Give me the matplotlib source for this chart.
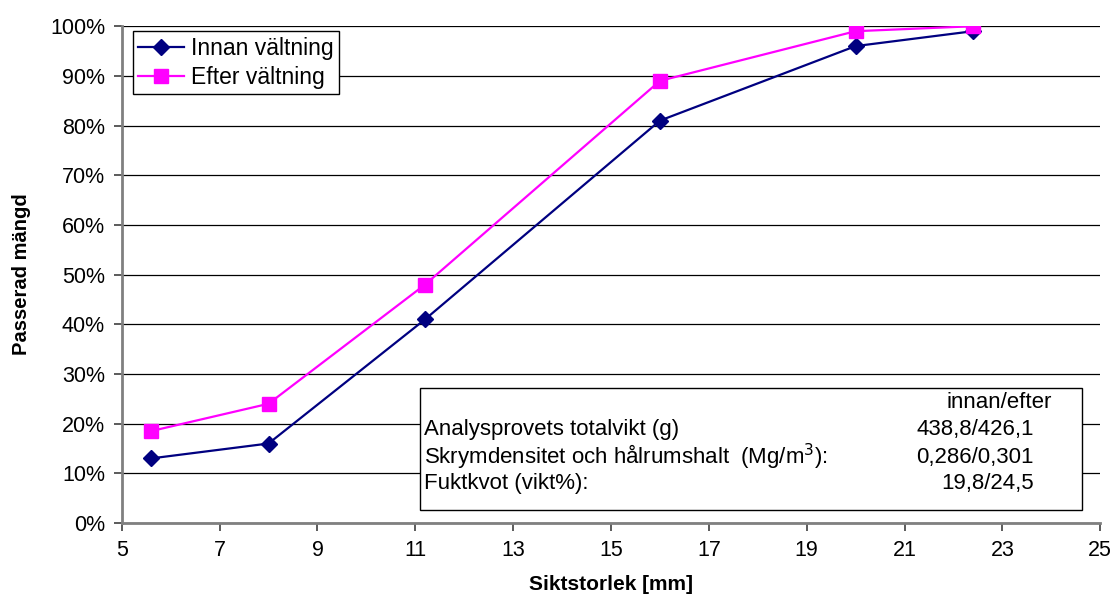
import matplotlib.pyplot as plt
from matplotlib.ticker import PercentFormatter

plt.rcParams['font.family'] = ['Liberation Sans', 'DejaVu Sans']

sikt = [5.6, 8, 11.2, 16, 20, 22.4]
innan = [13, 16, 41, 81, 96, 99]
efter = [18.5, 24, 48, 89, 99, 100]

fig = plt.figure(figsize=(11.17, 5.96), dpi=100)
ax = fig.add_axes([0.109, 0.1225, 0.876, 0.8335])

ax.plot(sikt, innan, color='#000080', marker='D', markersize=8, lw=1.6,
        label='Innan vältning', zorder=3)
ax.plot(sikt, efter, color='#FF00FF', marker='s', markersize=10, lw=1.6,
        label='Efter vältning', zorder=3)

ax.set_xlim(5, 25)
ax.set_ylim(0, 100)
ax.set_xticks(range(5, 26, 2))
ax.set_yticks(range(0, 101, 10))
ax.yaxis.set_major_formatter(PercentFormatter(decimals=0))
ax.grid(axis='y', color='black', lw=0.9)
ax.set_axisbelow(True)
for s in ['top', 'right']:
    ax.spines[s].set_visible(False)
for s in ['left', 'bottom']:
    ax.spines[s].set_color('#808080')
    ax.spines[s].set_linewidth(2)
ax.tick_params(axis='both', direction='out', length=6, width=1.2, color='#404040',
               labelsize=15.5, pad=6)
ax.set_xlabel('Siktstorlek [mm]', fontsize=15, fontweight='bold', labelpad=10)
ax.set_ylabel('Passerad mängd', fontsize=14.5, fontweight='bold', labelpad=14)

leg = ax.legend(loc='upper left', bbox_to_anchor=(0.011, 0.99), fontsize=16.5,
                frameon=True, fancybox=False, edgecolor='black', framealpha=1,
                borderaxespad=0, handlelength=2.0, handletextpad=0.3,
                borderpad=0.25, labelspacing=0.25)
leg.get_frame().set_linewidth(1)

rader = ['Analysprovets totalvikt (g)',
         'Skrymdensitet och hålrumshalt  (Mg/m$^3$):',
         'Fuktkvot (vikt%):']
varden = ['438,8/426,1', '0,286/0,301', '19,8/24,5']

# info box, placed in figure pixel coords (origin top-left)
W, H = 1117, 596
rect = plt.Rectangle((420 / W, (H - 510) / H), 662 / W, 122 / H,
                     transform=fig.transFigure, facecolor='white', edgecolor='black',
                     lw=1, zorder=5)
fig.add_artist(rect)
fig.text(1052 / W, (H - 402) / H, 'innan/efter', fontsize=16, ha='right',
         va='center', zorder=6)
ys = [429, 457, 484]
for r, v, y in zip(rader, varden, ys):
    fig.text(424 / W, (H - y) / H, r, fontsize=16, ha='left', va='center', zorder=6)
    fig.text(1034 / W, (H - y) / H, v, fontsize=16, ha='right', va='center', zorder=6)

fig.savefig('out.png', dpi=100)
